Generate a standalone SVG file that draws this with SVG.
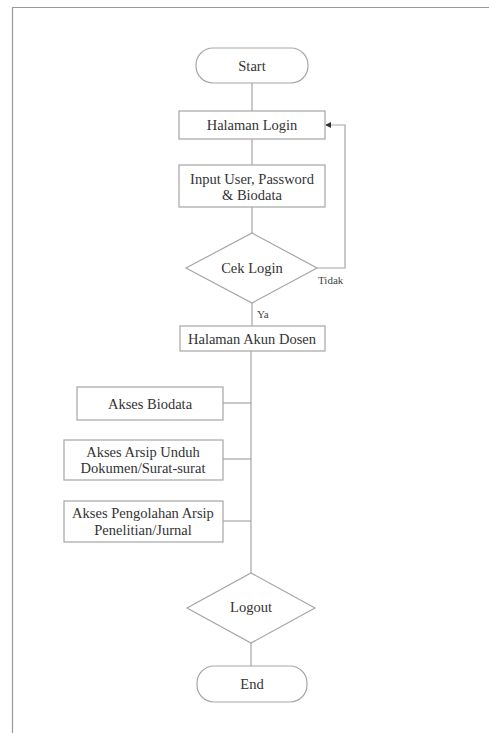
<svg xmlns="http://www.w3.org/2000/svg" width="489" height="733" viewBox="0 0 489 733">
<style>
.box{fill:#fff;stroke:#a6a6a6;stroke-width:1.2}
.ln{fill:none;stroke:#a6a6a6;stroke-width:1.2}
.t{font-family:"Liberation Serif","Times New Roman",serif;font-size:14.5px;fill:#333;text-anchor:middle;dominant-baseline:central}
.s{font-family:"Liberation Serif","Times New Roman",serif;font-size:11px;fill:#444}
</style>
<defs>
<marker id="ah" markerWidth="6" markerHeight="6" refX="5" refY="3" orient="auto" markerUnits="userSpaceOnUse">
<path d="M0,0 L6,3 L0,6 Z" fill="#333"/>
</marker>
</defs>
<rect width="489" height="733" fill="#fff"/>
<polyline points="12.5,733 12.5,7.5 489,7.5" fill="none" stroke="#999" stroke-width="1.2"/>
<g id="connectors">
<line class="ln" x1="252" y1="83" x2="252" y2="111"/>
<line class="ln" x1="252" y1="139" x2="252" y2="165"/>
<line class="ln" x1="252" y1="207" x2="252" y2="233"/>
<polyline class="ln" points="317,268 345,268 345,125 326,125" marker-end="url(#ah)"/>
<line class="ln" x1="252" y1="303" x2="252" y2="326"/>
<line class="ln" x1="251" y1="351" x2="251" y2="573"/>
<line class="ln" x1="223" y1="403" x2="251" y2="403"/>
<line class="ln" x1="223" y1="459" x2="251" y2="459"/>
<line class="ln" x1="223" y1="521" x2="251" y2="521"/>
<line class="ln" x1="251" y1="643" x2="251" y2="666"/>
<text class="s" x="318" y="284">Tidak</text>
<text class="s" x="257" y="318">Ya</text>
</g>
<g id="start">
<rect class="box" x="196" y="48" width="112" height="35" rx="17"/>
<text class="t" x="252" y="66">Start</text>
</g>
<g id="halaman-login">
<rect class="box" x="179" y="111" width="146" height="28"/>
<text class="t" x="252" y="125">Halaman Login</text>
</g>
<g id="input">
<rect class="box" x="179" y="165" width="146" height="42"/>
<text class="t" x="252" y="179">Input User, Password</text>
<text class="t" x="252" y="195">&amp; Biodata</text>
</g>
<g id="cek-login">
<polygon class="box" points="252,233 317,268 252,303 186,268"/>
<text class="t" x="252" y="268">Cek Login</text>
</g>
<g id="akun-dosen">
<rect class="box" x="180" y="326" width="145" height="25"/>
<text class="t" x="252" y="339">Halaman Akun Dosen</text>
</g>
<g id="akses-biodata">
<rect class="box" x="77" y="387" width="146" height="33"/>
<text class="t" x="150" y="404">Akses Biodata</text>
</g>
<g id="akses-arsip">
<rect class="box" x="64" y="440" width="159" height="40"/>
<text class="t" x="143" y="452">Akses Arsip Unduh</text>
<text class="t" x="143" y="468">Dokumen/Surat-surat</text>
</g>
<g id="akses-pengolahan">
<rect class="box" x="64" y="501" width="159" height="41"/>
<text class="t" x="143" y="513">Akses Pengolahan Arsip</text>
<text class="t" x="143" y="530">Penelitian/Jurnal</text>
</g>
<g id="logout">
<polygon class="box" points="251,573 315,608 251,643 187,608"/>
<text class="t" x="251" y="607">Logout</text>
</g>
<g id="end">
<rect class="box" x="197" y="666" width="110" height="36" rx="17"/>
<text class="t" x="252" y="684">End</text>
</g>
</svg>
